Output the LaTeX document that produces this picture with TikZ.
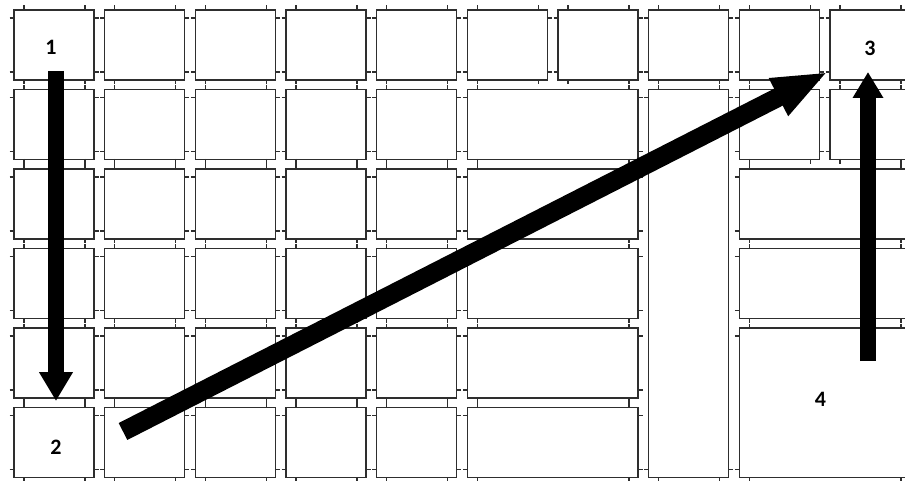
\documentclass[tikz,border=0pt]{standalone}
\usepackage{fontspec}
\setmainfont{Carlito}
\usetikzlibrary{arrows.meta}
\definecolor{wallgray}{HTML}{2E2E2E}
\tikzset{
  wall/.style={draw=wallgray, line width=1.35pt},
  tickmark/.style={draw=wallgray, line width=1.3pt},
  bigarrow/.style={draw=black, line width=#1},
  lbl/.style={font=\bfseries\fontsize{22}{26}\selectfont, inner sep=0pt, text=black}
}
\newcommand\drawcell[4]{%
  \draw[wall] (#1,#2) rectangle (#3,#4);
  \draw[tickmark]
    (#1,#2) ++(10,-4.5) -- ++(0,5)
    (#3,#2) ++(-9,-4.5) -- ++(0,5)
    (#1,#4) ++(10,-0.5) -- ++(0,5)
    (#3,#4) ++(-9,-0.5) -- ++(0,5)
    (#1,#2) ++(-4.5,8) -- ++(5,0)
    (#1,#4) ++(-4.5,-8) -- ++(5,0)
    (#3,#2) ++(-0.5,8) -- ++(5,0)
    (#3,#4) ++(-0.5,-8) -- ++(5,0);
}
\begin{document}
\begin{tikzpicture}[x=1pt, y=-1pt]
\useasboundingbox (0,0) rectangle (905,481);
\fill[white] (0,0) rectangle (905,481);
% top row: ten single cells
\foreach \i in {0,...,9}
  \drawcell{14+90.667*\i}{10}{94+90.667*\i}{80};
% rows 1-5, columns 0-4
\foreach \j in {1,...,5}
  \foreach \i in {0,...,4}
    \drawcell{14+90.667*\i}{10+79.5*\j}{94+90.667*\i}{80+79.5*\j};
% wide cells, columns 5-6
\foreach \j in {1,...,5}
  \drawcell{467.33}{10+79.5*\j}{638}{80+79.5*\j};
% tall cell, column 7
\drawcell{648.67}{89.5}{728.67}{477.5}
% right block
\drawcell{739.33}{89.5}{819.33}{159.5}
\drawcell{830}{89.5}{910}{159.5}
\drawcell{739.33}{169}{910}{239}
\drawcell{739.33}{248.5}{910}{318.5}
\drawcell{739.33}{328}{910}{477.5}

% arrow end points
\coordinate (s12) at (56,71);
\coordinate (e12) at (56,401);
\coordinate (s43) at (868,361);
\coordinate (e43) at (868,72);
\coordinate (sd) at (123,431.5);
\coordinate (ed) at (828.3,71.7);

\draw[bigarrow=15.5pt, -{Triangle[length=29pt,width=32pt]}] (s12) -- (e12);
\draw[bigarrow=15.5pt, -{Triangle[length=26pt,width=29pt]}] (s43) -- (e43);
\draw[bigarrow=19pt, -{Triangle[length=56pt,width=38pt]}] (sd) -- (ed);

% labels
\node[lbl] (n1) at (51,47) {1};
\node[lbl] (n2) at (56,447.5) {2};
\node[lbl] (n3) at (870,48) {3};
\node[lbl] (n4) at (820.5,399) {4};
\end{tikzpicture}
\end{document}
